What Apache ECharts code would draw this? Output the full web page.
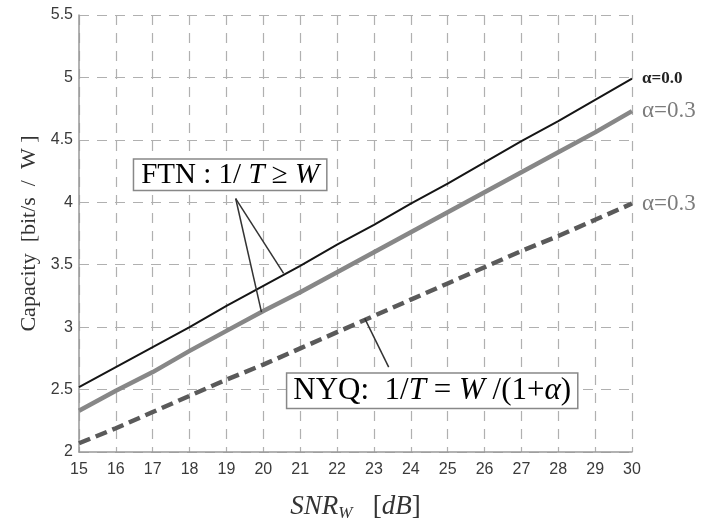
<!DOCTYPE html>
<html><head><meta charset="utf-8">
<script src="https://cdn.jsdelivr.net/npm/echarts@6/dist/echarts.min.js"></script>
<style>html,body{margin:0;padding:0;background:#fff}#c{width:717px;height:527px}</style>
</head><body><div id="c"></div>
<script>
const snr = [15,16,17,18,19,20,21,22,23,24,25,26,27,28,29,30];
const ftnAlpha00 = [2.52,2.68,2.84,3.00,3.17,3.33,3.49,3.66,3.82,3.99,4.15,4.32,4.49,4.65,4.82,4.99];
const ftnAlpha03 = [2.33,2.49,2.64,2.81,2.97,3.13,3.28,3.44,3.60,3.76,3.92,4.08,4.24,4.40,4.56,4.73];
const nyqAlpha03 = [2.07,2.19,2.32,2.45,2.58,2.70,2.83,2.96,3.09,3.22,3.35,3.48,3.61,3.73,3.86,3.99];
const xTicks = {min:15, max:30, interval:1};
const yTicks = {min:2, max:5.5, interval:0.5};
const seriesLabels = ['α=0.0','α=0.3','α=0.3'];
// annotation anchors in data coordinates
const ftnBox = [19.1, 4.22];
const ftnFrom = [19.25, 4.03];
const ftnTargets = [[20.55, 3.43],[19.95, 3.12]];
const nyqBox = [24.58, 2.49];
const nyqFrom = [23.4, 2.68];
const nyqTarget = [22.75, 3.07];

const serif = '"Liberation Serif", "Times New Roman", serif';
const sans = '"Liberation Sans", Arial, sans-serif';
const chart = echarts.init(document.getElementById('c'));
const mk = (a)=>snr.map((x,i)=>[x,a[i]]);
chart.setOption({
  backgroundColor:'#fff',
  animation:false,
  grid:{left:79,right:85,top:15,bottom:61},
  xAxis:{type:'value',min:xTicks.min,max:xTicks.max,interval:xTicks.interval,
    axisLine:{show:true,onZero:false,lineStyle:{color:'#999',width:1.5}},
    axisTick:{show:false},
    axisLabel:{color:'#3a3a3a',fontFamily:sans,fontSize:16,margin:10},
    splitLine:{show:true,lineStyle:{color:'#b0b0b0',type:[10,8],width:1.2}},
    name:'{i|SNR}{s|W}{n|   [}{i|dB}{n|]}',nameLocation:'middle',nameGap:39,
    nameTextStyle:{rich:{
      i:{fontFamily:serif,fontStyle:'italic',fontSize:27,color:'#333'},
      n:{fontFamily:serif,fontSize:27,color:'#333'},
      s:{fontFamily:serif,fontStyle:'italic',fontSize:17,color:'#333',padding:[14,0,0,0]}
    }}
  },
  yAxis:{type:'value',min:yTicks.min,max:yTicks.max,interval:yTicks.interval,
    axisLine:{show:true,onZero:false,lineStyle:{color:'#999',width:1.5}},
    axisTick:{show:false},
    axisLabel:{color:'#3a3a3a',fontFamily:sans,fontSize:16,margin:6},
    splitLine:{show:true,lineStyle:{color:'#b0b0b0',type:[10,8],width:1.2}},
    name:'Capacity  [bit/s  /  W ]',nameLocation:'middle',nameGap:36,
    nameTextStyle:{fontFamily:serif,fontSize:22,color:'#333'}
  },
  series:[
    {type:'line',data:mk(ftnAlpha00),showSymbol:false,z:5,
      lineStyle:{color:'#151515',width:2},
      endLabel:{show:true,formatter:seriesLabels[0],fontFamily:serif,fontWeight:'bold',fontSize:17,color:'#222',distance:10}},
    {type:'line',data:mk(ftnAlpha03),showSymbol:false,z:4,
      lineStyle:{color:'#878787',width:4.5},
      endLabel:{show:true,formatter:seriesLabels[1],fontFamily:serif,fontSize:23,color:'#7c7c7c',distance:10}},
    {type:'line',data:mk(nyqAlpha03),showSymbol:false,z:3,
      lineStyle:{color:'#5a5a5a',width:4.5,type:[12,6]},
      endLabel:{show:true,formatter:seriesLabels[2],fontFamily:serif,fontSize:23,color:'#7c7c7c',distance:10}}
  ]
});
const px = (p)=>chart.convertToPixel({gridIndex:0},p);
const mkRich = (fs)=>({
  n:{fontFamily:serif,fontSize:fs,color:'#333'},
  i:{fontFamily:serif,fontStyle:'italic',fontSize:fs,color:'#333'}
});
const line = (a,b)=>{const p=px(a),q=px(b);return {type:'line',z:50,shape:{x1:p[0],y1:p[1],x2:q[0],y2:q[1]},style:{stroke:'#333',lineWidth:1.5}};};
const box = (c,txt,fs,pad)=>{const p=px(c);return {type:'text',z:60,x:p[0],y:p[1],style:{text:txt,rich:mkRich(fs),align:'center',verticalAlign:'middle',backgroundColor:'#fff',borderColor:'#888',borderWidth:1.5,padding:pad}};};
chart.setOption({graphic:[
  line(ftnFrom,ftnTargets[0]),
  line(ftnFrom,ftnTargets[1]),
  line(nyqFrom,nyqTarget),
  box(ftnBox,'{n|FTN : 1/ }{i|T}{n| ≥ }{i|W}',29,[1,7,0,7]),
  box(nyqBox,'{n|NYQ:  1/}{i|T}{n| = }{i|W}{n| /(1+}{i|α}{n|)}',31,[2,6,1,6])
]});
</script></body></html>
